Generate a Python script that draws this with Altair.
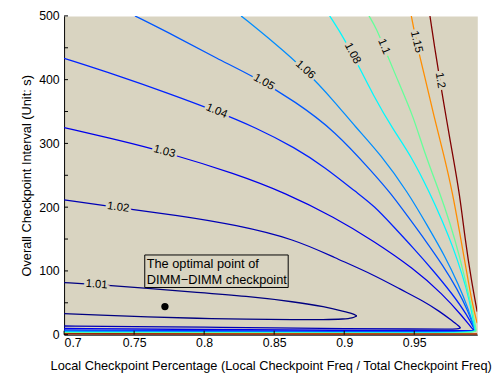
import altair as alt
import pandas as pd

BG = "#d9d4c1"
FONT = "Liberation Sans"

level_names = ["1.01", "1.02", "1.03", "1.04", "1.05", "1.06", "1.08", "1.1", "1.15", "1.2"]
level_colors = ["#000080", "#0000b5", "#0000eb", "#0022ff", "#0057ff", "#008dff",
                "#00f8ff", "#65ff9a", "#ff8d00", "#800000"]

# upper (large interval) branches of each contour level
up_x = {
    "1.01": [0.7, 0.7246, 0.7597, 0.7948, 0.8299, 0.865, 0.8861, 0.9001, 0.906, 0.909],
    "1.02": [0.7, 0.7386, 0.7808, 0.8229, 0.865, 0.8931, 0.9212, 0.9402, 0.9563, 0.9683, 0.9774, 0.9815, 0.983],
    "1.03": [0.7, 0.7386, 0.7716, 0.8229, 0.858, 0.8931, 0.9212, 0.9493, 0.9704, 0.9844, 0.9914, 0.993],
    "1.04": [0.7, 0.7386, 0.7737, 0.8088, 0.8369, 0.865, 0.8861, 0.9093, 0.9212, 0.9353, 0.9493, 0.9633, 0.9774, 0.9879, 0.9935],
    "1.05": [0.7506, 0.7808, 0.8088, 0.8369, 0.865, 0.8931, 0.9212, 0.9331, 0.9458, 0.9584, 0.9704, 0.9809, 0.9886, 0.9935],
    "1.06": [0.8264, 0.851, 0.8721, 0.8931, 0.9072, 0.9261, 0.9458, 0.9598, 0.9718, 0.9816, 0.9886, 0.9935],
    "1.08": [0.8896, 0.898, 0.9058, 0.9212, 0.9353, 0.9472, 0.9612, 0.9704, 0.9774, 0.9844, 0.9893, 0.9935],
    "1.1": [0.9177, 0.9233, 0.9282, 0.9388, 0.9493, 0.9577, 0.9683, 0.9753, 0.9823, 0.9879, 0.9921, 0.9942],
    "1.15": [0.9479, 0.9514, 0.9577, 0.964, 0.9711, 0.9774, 0.9823, 0.9872, 0.9914, 0.9949],
    "1.2": [0.9612, 0.9647, 0.9683, 0.9732, 0.9774, 0.9823, 0.9865, 0.9907, 0.9949],
}
up_y = {
    "1.01": [81.6, 78.5, 72.5, 66.5, 60.4, 51.4, 43.8, 36.3, 33.0, 29.5],
    "1.02": [211.5, 199.4, 187.3, 172.2, 149.5, 120.8, 93.7, 71.0, 52.9, 36.3, 21.1, 14.0, 10.6],
    "1.03": [324.8, 305.1, 287.0, 252.0, 222.1, 184.0, 146.5, 104.2, 63.4, 28.7, 9.1, 6.5],
    "1.04": [433.5, 406.3, 379.2, 350.5, 324.8, 293.1, 262.8, 222.1, 202.4, 169.2, 136.0, 101.2, 63.4, 30.2, 6.0],
    "1.05": [500, 466.8, 433.5, 403.3, 365.6, 320.2, 252.3, 222.1, 184.3, 146.5, 108.8, 71.0, 36.3, 6.0],
    "1.06": [500, 456.2, 415.4, 365.6, 327.8, 282.5, 222.1, 169.2, 123.9, 78.5, 40.8, 6.0],
    "1.08": [500, 471.3, 441.1, 373.1, 320.2, 282.5, 222.1, 176.7, 139.0, 93.7, 55.9, 6.0],
    "1.1": [500, 478.9, 451.7, 395.8, 342.9, 282.5, 222.1, 176.7, 123.9, 71.0, 33.2, 6.0],
    "1.15": [500, 459.2, 403.3, 342.9, 282.5, 222.1, 161.6, 101.2, 48.3, 18.1],
    "1.2": [500, 448.6, 398.8, 335.3, 282.5, 222.1, 146.5, 86.1, 36.3],
}
# lower (small interval) branches
low_x = {
    "1.01": [0.909, 0.906, 0.9001, 0.8861, 0.865, 0.83, 0.7948, 0.7597, 0.7246, 0.7],
    "1.02": [0.983, 0.981, 0.975, 0.95, 0.9, 0.85, 0.8, 0.75, 0.7],
    "1.03": [0.993, 0.99, 0.95, 0.9, 0.8, 0.7],
    "1.04": [0.9935, 0.99, 0.95, 0.9, 0.8, 0.7],
    "1.05": [0.9935, 0.99, 0.95, 0.9, 0.8, 0.7],
    "1.06": [0.9935, 0.99, 0.95, 0.9, 0.8, 0.7],
    "1.08": [0.9935, 0.99, 0.95, 0.9, 0.8, 0.7],
    "1.1": [0.9942, 0.99, 0.95, 0.9, 0.8, 0.7],
    "1.15": [0.995, 0.95, 0.9, 0.8, 0.7],
    "1.2": [0.995, 0.9, 0.7],
}
low_y = {
    "1.01": [29.5, 26.0, 24.5, 23.5, 23.5, 24.5, 25.5, 28.0, 30.5, 33.0],
    "1.02": [10.6, 9.0, 8.8, 8.8, 9.3, 10.5, 11.8, 12.8, 13.6],
    "1.03": [6.5, 6.3, 6.3, 6.8, 8.0, 9.8],
    "1.04": [6.0, 5.3, 5.0, 5.2, 6.2, 7.5],
    "1.05": [6.0, 4.6, 4.0, 4.2, 5.0, 6.0],
    "1.06": [6.0, 3.8, 3.3, 3.5, 4.2, 5.0],
    "1.08": [6.0, 3.0, 2.6, 2.8, 3.3, 3.8],
    "1.1": [6.0, 2.4, 2.1, 2.2, 2.6, 3.0],
    "1.15": [1.2, 1.3, 1.4, 1.6, 1.8],
    "1.2": [0.7, 0.8, 1.1],
}

# inline contour labels
label_x = [0.7232, 0.7386, 0.7716, 0.8088, 0.8426, 0.8721, 0.9058, 0.9282, 0.9514, 0.9683]
label_y = [78.5, 199.4, 287.0, 350.5, 395.8, 415.4, 441.1, 451.7, 459.2, 398.8]
label_angle = [4, 8, 15, 23, 30, 42, 62, 67, 77, 81]

x_ticks = [0.7, 0.75, 0.8, 0.85, 0.9, 0.95]
y_ticks = [0, 50, 100, 150, 200, 250, 300, 350, 400, 450, 500]

opt_x = [0.772]
opt_y = [44]
note_lines = ["The optimal point of", "DIMM\u2212DIMM checkpoint"]
note_line_x = [0.759, 0.759]
note_line_y = [104.5, 79.5]
note_box_x = [0.7576, 0.860]
note_box_y = [74.0, 125.0]

rows = []
for name in level_names:
    for i, (xv, yv) in enumerate(zip(up_x[name], up_y[name])):
        rows.append({"level": name, "key": name + "u", "o": i, "x": xv, "y": yv})
    for i, (xv, yv) in enumerate(zip(low_x[name], low_y[name])):
        rows.append({"level": name, "key": name + "l", "o": i, "x": xv, "y": yv})
lines_df = pd.DataFrame(rows)

labels_df = pd.DataFrame({"x": label_x, "y": label_y, "a": label_angle, "t": level_names})

W, H = 420, 324

xscale = alt.Scale(domain=[0.7, 0.995], nice=False, zero=False)
yscale = alt.Scale(domain=[0, 500], nice=False, zero=False)

lines = alt.Chart(lines_df).mark_line(strokeWidth=1.3, clip=True, interpolate="basis").encode(
    x=alt.X("x:Q", scale=xscale,
            axis=alt.Axis(values=x_ticks, format="~g", labelOverlap=False,
                          title="Local Checkpoint Percentage (Local Checkpoint Freq / Total Checkpoint Freq)",
                          labelPadding=2, titlePadding=11)),
    y=alt.Y("y:Q", scale=yscale,
            axis=alt.Axis(values=y_ticks, labelOverlap=False, title="Overall Checkpoint Interval (Unit: s)",
                          labelPadding=5, titlePadding=5)),
    color=alt.Color("level:N", scale=alt.Scale(domain=level_names, range=level_colors), legend=None),
    detail="key:N",
    order="o:Q",
)

xt = alt.Chart(pd.DataFrame({"x": x_ticks})).mark_rule(color="black", strokeWidth=1).encode(
    x="x:Q", y=alt.value(H), y2=alt.value(H - 4))
yt = alt.Chart(pd.DataFrame({"y": y_ticks})).mark_rule(color="black", strokeWidth=1).encode(
    y="y:Q", x=alt.value(0), x2=alt.value(4))

halo = alt.Chart(labels_df).mark_text(fontSize=11.5, font=FONT, color=BG, stroke=BG, strokeWidth=5).encode(
    x="x:Q", y="y:Q", text="t:N", angle=alt.Angle("a:Q", scale=None))
lab = alt.Chart(labels_df).mark_text(fontSize=11.5, font=FONT, color="black").encode(
    x="x:Q", y="y:Q", text="t:N", angle=alt.Angle("a:Q", scale=None))

box = alt.Chart(pd.DataFrame({"x": [note_box_x[0]], "x2": [note_box_x[1]],
                              "y": [note_box_y[0]], "y2": [note_box_y[1]]})).mark_rect(
    fill=BG, stroke="black", strokeWidth=1).encode(x="x:Q", x2="x2:Q", y="y:Q", y2="y2:Q")
note = alt.Chart(pd.DataFrame({"x": note_line_x, "y": note_line_y, "t": note_lines})).mark_text(
    fontSize=13, font=FONT, color="black", align="left", baseline="alphabetic").encode(
    x="x:Q", y="y:Q", text="t:N")
dot = alt.Chart(pd.DataFrame({"x": opt_x, "y": opt_y})).mark_circle(size=55, color="black", opacity=1).encode(
    x="x:Q", y="y:Q")

chart = alt.layer(lines, xt, yt, halo, lab, box, note, dot).properties(
    width=W, height=H,
    autosize=alt.AutoSizeParams(type="none"),
    padding={"left": 57, "top": 5, "right": 18, "bottom": 40},
    background="white",
).configure_view(fill=BG, stroke="transparent").configure_axis(
    grid=False, ticks=False, tickSize=0, domainColor="black", domainWidth=1,
    labelColor="black", labelFont=FONT, labelFontSize=12.5,
    titleColor="black", titleFont=FONT, titleFontSize=13, titleFontWeight="normal",
)

chart.save("out.html", embed_options={"renderer": "svg", "actions": False})
